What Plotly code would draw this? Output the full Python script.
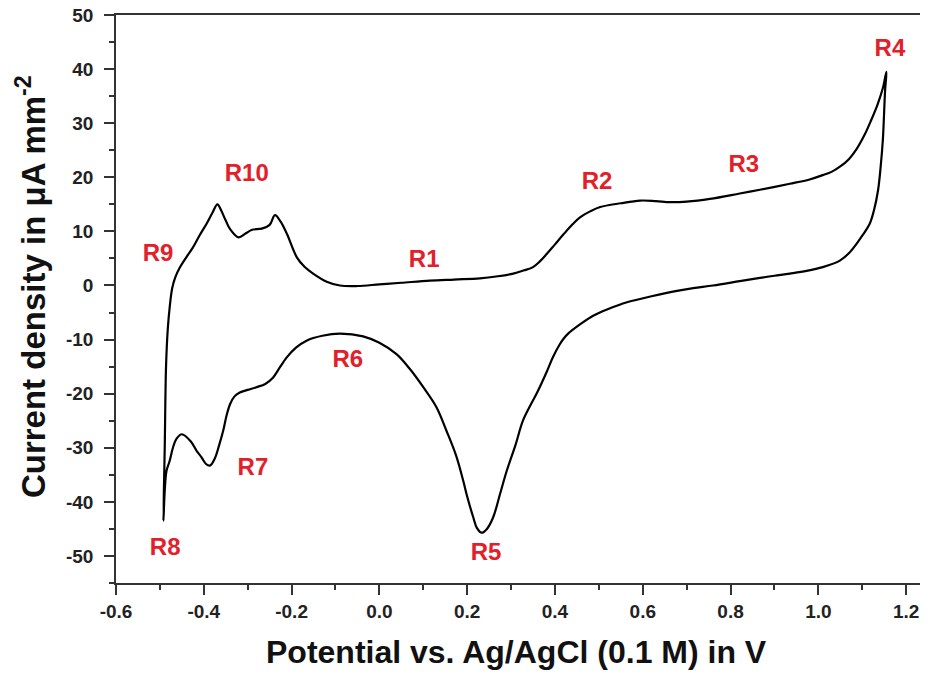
import plotly.graph_objects as go

# Forward (anodic) scan, starting at R8
fwd_x = [-0.492, -0.489, -0.486, -0.482, -0.477, -0.472, -0.465, -0.454, -0.44, -0.425,
         -0.41, -0.393, -0.38, -0.369, -0.36, -0.35, -0.34, -0.321, -0.305, -0.29,
         -0.268, -0.25, -0.238, -0.225, -0.211, -0.188, -0.17, -0.151, -0.12, -0.09,
         -0.05, 0.0, 0.05, 0.115, 0.17, 0.229, 0.27, 0.305, 0.33, 0.35,
         0.365, 0.381, 0.4, 0.42, 0.44, 0.457, 0.48, 0.503, 0.55, 0.594,
         0.63, 0.662, 0.7, 0.753, 0.821, 0.867, 0.935, 0.98, 1.01, 1.03,
         1.05, 1.07, 1.087, 1.105, 1.12, 1.135, 1.147, 1.155]
fwd_y = [-43.5, -30, -15, -8, -3.5, -0.5, 1.5, 3.4, 5.2, 7.0,
         9.2, 11.5, 13.5, 15.0, 13.8, 12.0, 10.4, 8.9, 9.6, 10.3,
         10.5, 11.2, 13.0, 11.8, 9.6, 5.2, 3.4, 2.2, 0.7, 0.0,
         -0.1, 0.2, 0.5, 0.9, 1.1, 1.3, 1.7, 2.2, 2.8, 3.4,
         4.4, 5.8, 7.6, 9.5, 11.3, 12.6, 13.7, 14.5, 15.2, 15.7,
         15.6, 15.4, 15.5, 16.0, 17.0, 17.7, 18.8, 19.6, 20.4, 21.0,
         22.0, 23.4, 25.2, 27.8, 30.5, 33.5, 36.5, 39.5]

# Reverse (cathodic) scan, from R4 back to R8
rev_x = [1.155, 1.152, 1.147, 1.142, 1.136, 1.127, 1.117, 1.1, 1.087, 1.07,
         1.049, 1.01, 0.973, 0.935, 0.9, 0.867, 0.821, 0.76, 0.715, 0.678,
         0.62, 0.564, 0.52, 0.487, 0.457, 0.43, 0.42, 0.41, 0.395, 0.381,
         0.36, 0.345, 0.327, 0.31, 0.29, 0.275, 0.259, 0.245, 0.233, 0.222,
         0.214, 0.2, 0.191, 0.175, 0.153, 0.13, 0.1, 0.07, 0.039, 0.0,
         -0.037, -0.09, -0.13, -0.166, -0.19, -0.211, -0.228, -0.242, -0.26, -0.28,
         -0.3, -0.318, -0.33, -0.34, -0.348, -0.356, -0.365, -0.375, -0.386, -0.395,
         -0.405, -0.416, -0.43, -0.45, -0.462, -0.47, -0.478, -0.485, -0.489, -0.492]
rev_y = [39.5, 36.0, 27.0, 22.0, 17.6, 14.0, 11.4, 9.2, 7.7, 6.0,
         4.6, 3.4, 2.7, 2.2, 1.8, 1.4, 0.8, 0.0, -0.5, -1.0,
         -2.0, -3.1, -4.4, -5.6, -7.2, -8.9, -9.8, -11.0, -13.3, -16.0,
         -19.7, -22.0, -25.0, -29.5, -34.3, -38.5, -42.9, -45.0, -45.7, -44.8,
         -42.9, -39.0, -36.1, -31.5, -26.9, -22.5, -18.8, -15.5, -12.7, -10.6,
         -9.4, -8.9, -9.3, -10.2, -11.5, -13.3, -15.3, -17.0, -18.2, -18.8,
         -19.3, -19.8, -20.5, -21.9, -24.0, -26.9, -29.5, -32.0, -33.3, -33.0,
         -31.8, -30.6, -28.8, -27.5, -28.3, -29.9, -32.5, -34.3, -38.0, -43.5]

# Region labels
label_text = ["R1", "R2", "R3", "R4", "R5", "R6", "R7", "R8", "R9", "R10"]
label_x = [0.102, 0.496, 0.83, 1.163, 0.243, -0.072, -0.288, -0.488, -0.504, -0.302]
label_y = [4.6, 18.9, 22.0, 43.5, -49.6, -13.9, -33.9, -48.7, 5.7, 20.4]

x_ticks = [-0.6, -0.4, -0.2, 0.0, 0.2, 0.4, 0.6, 0.8, 1.0, 1.2]
x_tick_text = ["-0.6", "-0.4", "-0.2", "0.0", "0.2", "0.4", "0.6", "0.8", "1.0", "1.2"]
y_ticks = [-50, -40, -30, -20, -10, 0, 10, 20, 30, 40, 50]
y_tick_text = ["-50", "-40", "-30", "-20", "-10", "0", "10", "20", "30", "40", "50"]

x_title = "Potential vs. Ag/AgCl (0.1 M) in V"
y_title = "Current density in μA mm<sup>-2</sup>"

fig = go.Figure()
fig.add_trace(go.Scatter(x=fwd_x + rev_x[1:], y=fwd_y + rev_y[1:], mode="lines",
                         line=dict(color="black", width=2.2, shape="spline", smoothing=1.0),
                         showlegend=False, hoverinfo="skip"))
fig.add_trace(go.Scatter(x=label_x, y=label_y, mode="text", text=label_text,
                         textfont=dict(family="Liberation Sans", size=24, color="#e3202a", weight="bold"),
                         showlegend=False, hoverinfo="skip"))

tickfont = dict(family="Liberation Sans", size=19, color="#222", weight="bold")
axis_common = dict(showline=True, linecolor="#333", linewidth=1.5, ticks="outside",
                   tickcolor="#333", tickwidth=1.5, ticklen=10, showgrid=False, zeroline=False,
                   tickfont=tickfont, automargin=False, ticklabeloverflow="allow")

fig.update_xaxes(range=[-0.6, 1.268], tickvals=x_ticks, ticktext=x_tick_text, mirror=True,
                 minor=dict(dtick=0.1, tick0=-0.6, ticks="outside", ticklen=5, tickcolor="#333", tickwidth=1.5),
                 **axis_common)
fig.update_yaxes(range=[-55, 50], tickvals=y_ticks, ticktext=y_tick_text, mirror=False,
                 ticklabelstandoff=7,
                 minor=dict(dtick=5, tick0=-55, ticks="outside", ticklen=5, tickcolor="#333", tickwidth=1.5),
                 **axis_common)

fig.add_annotation(text=x_title, xref="paper", yref="paper", x=0.489, y=0,
                   xanchor="center", yanchor="middle", yshift=-69, showarrow=False,
                   font=dict(family="Liberation Sans", size=32, color="#111", weight="bold"))
fig.add_annotation(text=y_title, xref="paper", yref="paper", x=0, y=0.521,
                   xanchor="center", yanchor="middle", xshift=-85, textangle=-90, showarrow=False,
                   font=dict(family="Liberation Sans", size=33, color="#111", weight="bold"))

fig.update_layout(width=928, height=673, paper_bgcolor="white", plot_bgcolor="white",
                  margin=dict(l=108, r=0, t=7, b=98))
fig.write_html("out.html")
